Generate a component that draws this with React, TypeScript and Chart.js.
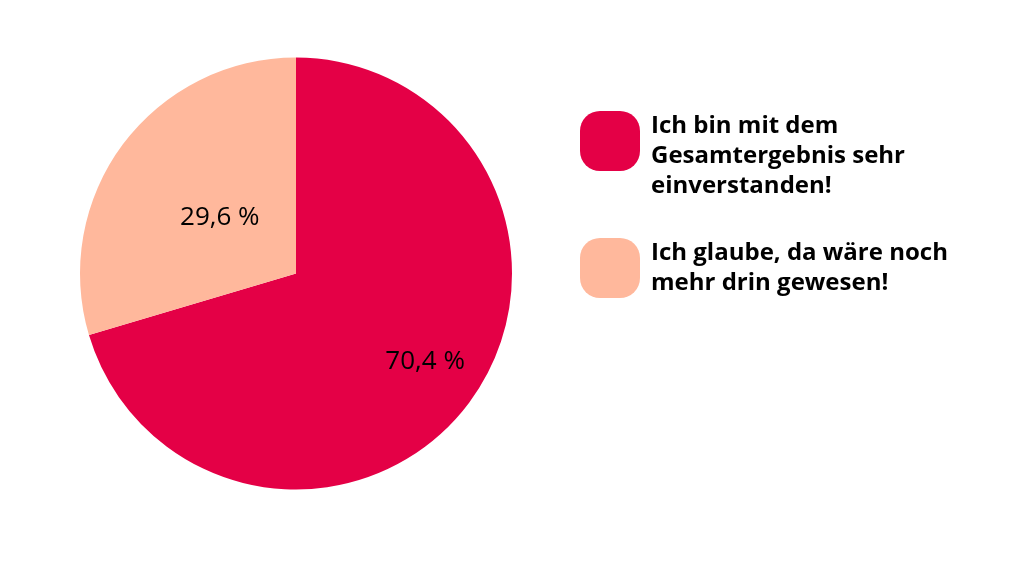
import React, { useEffect, useRef } from "react";
import { Chart, registerables } from "chart.js";

Chart.register(...registerables);

const categories: string[][] = [
  ["Ich bin mit dem", "Gesamtergebnis sehr", "einverstanden!"],
  ["Ich glaube, da wäre noch", "mehr drin gewesen!"],
];
const values = [70.4, 29.6];
const valueLabels = ["70,4 %", "29,6 %"];
const colors = ["#E40046", "#FFB89C"];
const labelRadiusFactor = [0.72, 0.44];

const FONT = "'Open Sans', 'Noto Sans', sans-serif";

const pieLabelsPlugin = {
  id: "pieLabels",
  afterDatasetsDraw(chart: any) {
    const ctx = chart.ctx;
    const meta = chart.getDatasetMeta(0);
    ctx.save();
    ctx.font = `26px ${FONT}`;
    ctx.fillStyle = "#000";
    ctx.textAlign = "center";
    ctx.textBaseline = "middle";
    meta.data.forEach((arc: any, i: number) => {
      const { x, y, startAngle, endAngle, outerRadius } = arc.getProps(
        ["x", "y", "startAngle", "endAngle", "outerRadius"],
        true
      );
      const mid = (startAngle + endAngle) / 2 - (i === 0 ? 0.05 : 0);
      const r = outerRadius * labelRadiusFactor[i];
      ctx.fillText(valueLabels[i], x + Math.cos(mid) * r, y + Math.sin(mid) * r + 1);
    });
    ctx.restore();
  },
};

const legendPlugin = {
  id: "sideLegend",
  afterDraw(chart: any) {
    const ctx = chart.ctx;
    const boxX = 580;
    const boxSize = 60;
    const textX = 651;
    const lineH = 30;
    const boxTops = [111, 238];
    ctx.save();
    ctx.font = `bold 24px ${FONT}`;
    ctx.textAlign = "left";
    ctx.textBaseline = "alphabetic";
    categories.forEach((lines, i) => {
      ctx.fillStyle = colors[i];
      ctx.beginPath();
      (ctx as any).roundRect(boxX, boxTops[i], boxSize, boxSize, 20);
      ctx.fill();
      ctx.fillStyle = "#000";
      lines.forEach((line, j) => {
        ctx.fillText(line, textX, boxTops[i] + 22 + j * lineH);
      });
    });
    ctx.restore();
  },
};

export default function App() {
  const ref = useRef<HTMLCanvasElement>(null);
  useEffect(() => {
    document.body.style.margin = "0";
    const chart = new Chart(ref.current!, {
      type: "pie",
      data: {
        labels: categories.map((l) => l.join(" ")),
        datasets: [
          {
            data: values,
            backgroundColor: colors,
            borderWidth: 0,
          },
        ],
      },
      options: {
        responsive: false,
        animation: false,
        layout: { padding: { left: 80, right: 512, top: 57, bottom: 86 } },
        plugins: {
          legend: { display: false },
          tooltip: { enabled: false },
        },
      },
      plugins: [pieLabelsPlugin, legendPlugin],
    });
    return () => chart.destroy();
  }, []);
  return (
    <div style={{ width: 1024, height: 576, background: "#fff" }}>
      <canvas ref={ref} width={1024} height={576} />
    </div>
  );
}
